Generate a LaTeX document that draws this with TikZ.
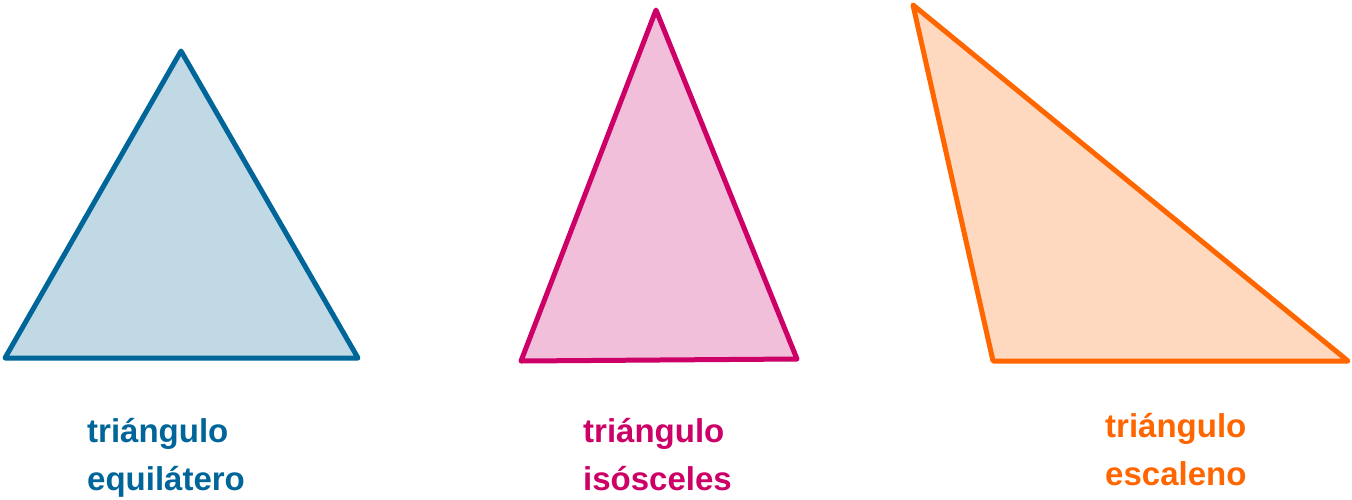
\documentclass[tikz,border=0pt]{standalone}
\usepackage{fontspec}
\setmainfont{Liberation Sans}
\usepackage{tikz}
\definecolor{eqline}{HTML}{006699}
\definecolor{eqfill}{HTML}{C0D9E5}
\definecolor{isline}{HTML}{CC0066}
\definecolor{isfill}{HTML}{F1BFD9}
\definecolor{scline}{HTML}{FF6600}
\definecolor{scfill}{HTML}{FFD9BF}

\begin{document}
\begin{tikzpicture}[x=1pt,y=-1pt,every node/.style={inner sep=0pt},
  tri/.style={line width=5pt,line join=round},
  tname/.style={align=left,anchor=base west,font=\bfseries\fontsize{33}{48}\selectfont}]
\useasboundingbox (0,0) rectangle (1352,499);
\filldraw[tri,draw=eqline,fill=eqfill] (5,358) -- (181,51) -- (358,358) -- cycle;
\filldraw[tri,draw=isline,fill=isfill] (521,361) -- (656,10) -- (797,359) -- cycle;
\filldraw[tri,draw=scline,fill=scfill] (913,5) -- (993,361) -- (1348,361) -- cycle;
\node[tname,text=eqline](EQ) at (87,490){triángulo\\equilátero};
\node[tname,text=isline](IS) at (583,490){triángulo\\isósceles};
\node[tname,text=scline](SC) at (1105,485){triángulo\\escaleno};
\end{tikzpicture}
\end{document}
